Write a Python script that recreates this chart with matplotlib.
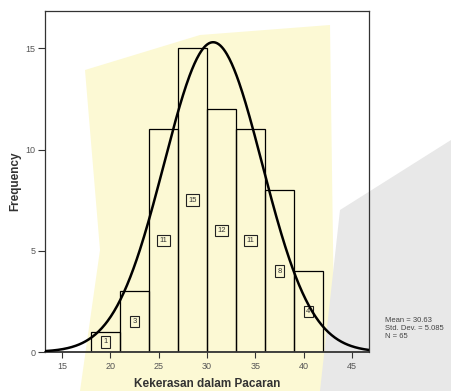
import numpy as np
import matplotlib
matplotlib.use("Agg")
import matplotlib.pyplot as plt
from matplotlib.patches import Polygon

plt.rcParams['font.family'] = ['Liberation Sans', 'DejaVu Sans']

bin_edges = [18, 21, 24, 27, 30, 33, 36, 39, 42]
counts = [1, 3, 11, 15, 12, 11, 8, 4]
mean_val = 30.63
std_val = 5.085
n_val = 65
x_ticks = [15, 20, 25, 30, 35, 40, 45]
y_ticks = [0, 5, 10, 15]

fig = plt.figure(figsize=(4.51, 3.91), dpi=100)

# faint background watermark approximation
bg = fig.add_axes([0, 0, 1, 1], zorder=-5)
bg.set_xlim(0, 451)
bg.set_ylim(391, 0)
bg.axis('off')
bg.add_patch(Polygon([[85, 70], [200, 35], [330, 25], [335, 391], [80, 391], [100, 250]],
                     closed=True, facecolor='#fcf9d4', edgecolor='none'))
bg.add_patch(Polygon([[340, 210], [451, 140], [451, 391], [320, 391]],
                     closed=True, facecolor='#e8e8e8', edgecolor='none'))

ax = fig.add_axes([45 / 451, 1 - 352 / 391, (369 - 45) / 451, (352 - 11) / 391])
ax.patch.set_alpha(0)

widths = np.diff(bin_edges)
lefts = np.array(bin_edges[:-1])
ax.bar(lefts, counts, width=widths, align='edge', fill=False,
       edgecolor='black', linewidth=0.9, zorder=2)
for l, w, c in zip(lefts, widths, counts):
    ax.text(l + w / 2, c / 2, str(c), ha='center', va='center', fontsize=5.5,
            color='#333333', zorder=3,
            bbox=dict(boxstyle='square,pad=0.3', fc='none', ec='#222222', lw=0.8))

xlim = (13.24, 46.76)
xs = np.linspace(xlim[0], xlim[1], 400)
bw = widths[0]
ys = n_val * bw / (std_val * np.sqrt(2 * np.pi)) * np.exp(-0.5 * ((xs - mean_val) / std_val) ** 2)
ax.plot(xs, ys, color='black', linewidth=1.8, zorder=4)

ax.set_xlim(*xlim)
ax.set_ylim(0, 16.84)
ax.set_xticks(x_ticks)
ax.set_yticks(y_ticks)
ax.tick_params(axis='both', labelsize=6.5, colors='#333333', width=0.8, direction='out')
ax.tick_params(axis='x', length=4, pad=3.5)
ax.tick_params(axis='y', length=5, pad=2)
for lbl in ax.get_xticklabels() + ax.get_yticklabels():
    lbl.set_color('#555555')
for s in ax.spines.values():
    s.set_linewidth(0.9)
    s.set_color('#333333')
ax.spines['bottom'].set_linewidth(1.3)

ax.set_xlabel('Kekerasan dalam Pacaran', fontsize=8.5, fontweight='bold', color='#333333', labelpad=5)
ax.set_ylabel('Frequency', fontsize=8.5, fontweight='bold', color='#333333', labelpad=3)

fig.text(385 / 451, 1 - 329 / 391,
         f'Mean = {mean_val}\nStd. Dev. = {std_val}\nN = {n_val}',
         fontsize=5.5, color='#444444', ha='left', va='center', linespacing=1.2)

fig.savefig('out.png', dpi=100)
